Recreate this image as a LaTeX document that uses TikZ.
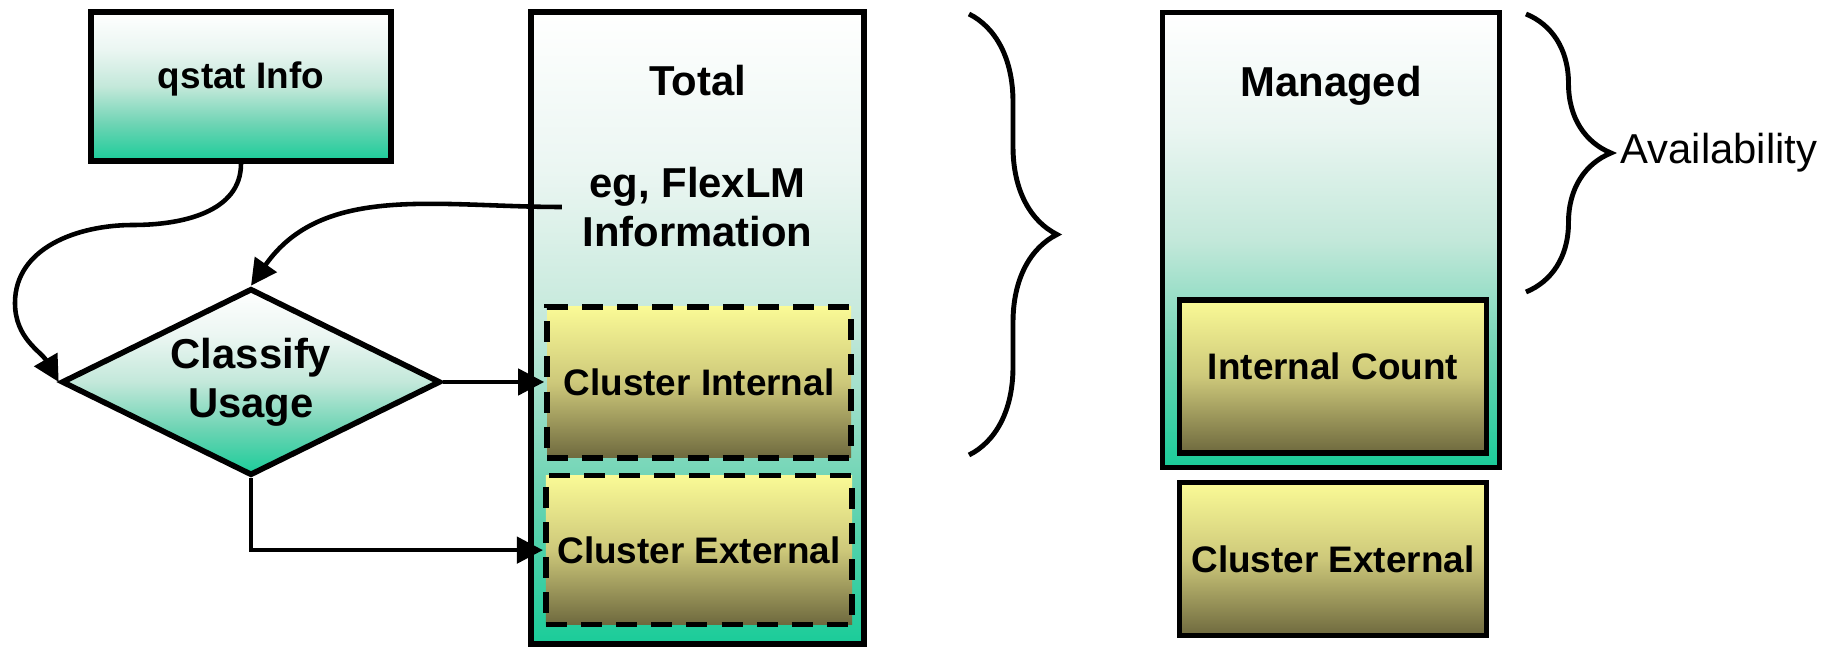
\documentclass[tikz,border=0pt]{standalone}
\usepackage{fontspec}
\setmainfont{Liberation Sans}
\usetikzlibrary{positioning}
\usetikzlibrary{shapes.geometric}
\usetikzlibrary{arrows.meta}
\usetikzlibrary{decorations.pathreplacing}
\definecolor{mint}{RGB}{26,204,153}
\definecolor{mintmid}{RGB}{110,212,180}
\definecolor{mintlight}{RGB}{195,232,218}
\definecolor{mintpale}{RGB}{235,246,242}
\definecolor{lemon}{RGB}{250,250,150}
\definecolor{lemonmid}{RGB}{205,200,122}
\definecolor{khaki}{RGB}{110,105,62}
\pgfdeclareverticalshading{tealfade}{100bp}{color(0bp)=(mint); color(25bp)=(mint); color(37.5bp)=(mintmid); color(50bp)=(mintlight); color(62.5bp)=(mintpale); color(75bp)=(white); color(100bp)=(white)}
\pgfdeclareverticalshading{lemonfade}{100bp}{color(0bp)=(khaki); color(25bp)=(khaki); color(50bp)=(lemonmid); color(75bp)=(lemon); color(100bp)=(lemon)}
\newcommand\bigbold{\fontsize{11.9}{13.9}\selectfont\bfseries}
\newcommand\smallbold{\fontsize{10.5}{12.6}\selectfont\bfseries}
\newcommand\bignormal{\fontsize{11.9}{13.9}\selectfont}

\tikzset{
  tealbox/.style={draw, line width=1.6, shade, shading=tealfade},
  countbox/.style={draw, line width=1.6, shade, shading=lemonfade,
    minimum width=3.05cm, minimum height=1.5cm, font=\smallbold},
  curlybrace/.style={draw, line width=1.4, decorate, decoration={brace, amplitude=#1}}
}

\begin{document}
\begin{tikzpicture}[>={Triangle[length=0.26cm,width=0.26cm]}]
        \useasboundingbox (0,0) rectangle (18.32,-6.47);

        % nodes %
        \node[tealbox, minimum width=3.0cm, minimum height=1.49cm, text depth=0.22cm, font=\smallbold] (qstat) at (2.41,-0.865) {qstat Info};
        \node[diamond, aspect=2, tealbox, minimum width=3.79cm, minimum height=1.87cm, inner sep=0pt, align=center, font=\bigbold] (classify) at (2.51,-3.82) {Classify\\Usage};

        \node[tealbox, minimum width=3.33cm, minimum height=6.32cm] (total) at (6.975,-3.28) {};
        \node[font=\bigbold] (totaltxt) at ([yshift=-0.71cm]total.north) {Total};
        \node[font=\bigbold, align=center, inner sep=0.2cm] (flexlm) at (6.975,-2.07) {eg, FlexLM\\Information};
        \node[countbox, dashed, dash pattern=on 6pt off 4pt, minimum width=3.04cm, minimum height=1.51cm] (clint) at (6.99,-3.825) {Cluster Internal};
        \node[countbox, dashed, dash pattern=on 6pt off 4pt, minimum width=3.04cm, minimum height=1.49cm, below=0.12 of clint] (clext) {Cluster External};

        \node[tealbox, minimum width=3.37cm, minimum height=4.55cm] (managed) at (13.31,-2.40) {};
        \node[font=\bigbold] (managedtxt) at ([yshift=-0.76cm]managed.north) {Managed};
        \node[countbox, minimum width=3.07cm, minimum height=1.53cm, text depth=0.21cm] (intcount) at (13.33,-3.765) {Internal Count};
        \node[countbox, minimum width=3.07cm, minimum height=1.53cm, below=0.24 of intcount] (extright) {Cluster External};

        % braces %
        \draw[curlybrace=0.88cm] (9.69,-0.14) -- (9.69,-4.55);
        \draw[curlybrace=0.85cm] (15.26,-0.14) -- (15.26,-2.92);
        \coordinate (availtip) at (16.11,-1.53);
        \node[right=-0.03 of availtip, font=\bignormal] (avail) {Availability};

        % edges %
        \coordinate (qbend) at (1.33,-2.25);
        \coordinate (qleft) at (0.15,-3.03);
        \draw[->, line width=1.3] (qstat.south) to[out=-90,in=0] (qbend) to[out=180,in=90] (qleft) to[out=-90,in=120] (classify.west);
        \draw[->, line width=1.3] (flexlm.west) to[out=180,in=55] (classify.north);
        \draw[->, line width=1.3] (classify.east) -- (classify.east -| clint.west);
        \draw[->, line width=1.3] (classify.south) |- (clext.west);
      \end{tikzpicture}
\end{document}
